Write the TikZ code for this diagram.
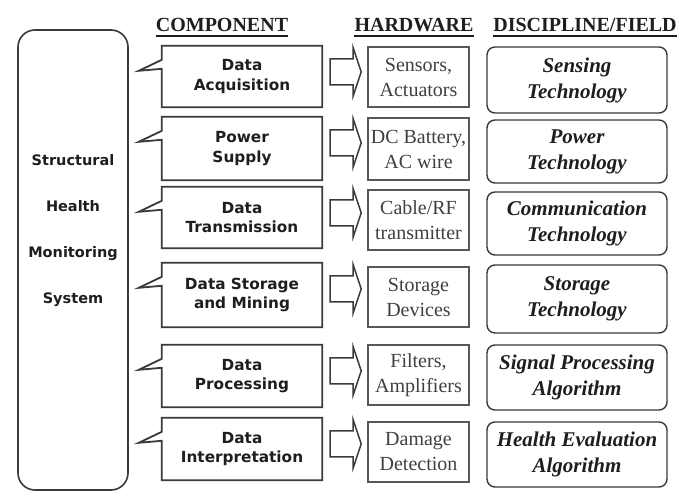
\documentclass[tikz,border=0pt]{standalone}
\usepackage{fontspec}
\setmainfont{Liberation Serif}
\newfontfamily\cmpfont{DejaVu Sans}
\usetikzlibrary{calc}
\definecolor{ln}{HTML}{3A3A3A}
\definecolor{tx}{HTML}{1E1E1E}
\tikzset{
 sysbox/.style={draw=ln, line width=1.6pt, rounded corners=17pt, minimum width=110pt, minimum height=460pt, inner sep=0pt},
 systext/.style={font=\cmpfont\bfseries\fontsize{14.5}{46}\selectfont, text=tx, align=center},
 cbox/.style={draw=none, minimum width=160pt, inner sep=0pt, font=\cmpfont\bfseries\fontsize{15.3}{19.5}\selectfont, text=tx, align=center},
 coutline/.style={draw=ln, line width=1.8pt, line join=miter},
 hwbox/.style={draw=ln!85, line width=1.3pt, minimum width=101pt, align=center, text=tx!85, font=\fontsize{20}{25}\selectfont, inner sep=0pt},
 dfbox/.style={draw=ln, line width=1.4pt, rounded corners=8pt, minimum width=180pt, align=center, text=tx, font=\bfseries\itshape\fontsize{21}{26}\selectfont, inner sep=0pt},
 hdr/.style={font=\bfseries\fontsize{20}{22}\selectfont, text=tx, inner sep=0pt, anchor=base},
 barrow/.style={draw=ln, line width=1.5pt, fill=white, line join=miter},
}
\newcommand\calloutpath[1]{\draw[coutline] (#1.north west) -- (#1.north east) -- (#1.south east) -- (#1.south west) -- ($(#1.north west)+(0,23)$) -- ($(#1.north west)+(-23,25)$) -- ($(#1.north west)+(0,14)$) -- cycle;}
\newcommand\blockarr[1]{\draw[barrow] ($(#1.north east)+(8,13)$) -- ++(23,0) -- ++(0,-11) -- ++(8,24) -- ++(-8,24) -- ++(0,-11) -- ++(-23,0) -- cycle;}
\begin{document}
\begin{tikzpicture}[x=1pt,y=-1pt]
\useasboundingbox[fill=white] (0,0) rectangle (689,494);
% headers
\node[hdr] (h1) at (222,32) {COMPONENT};
\node[hdr] (h2) at (414,32) {HARDWARE};
\node[hdr] (h3) at (585,32) {DISCIPLINE/FIELD};
\foreach \h in {h1,h2,h3}{\draw[line width=1.4pt, draw=tx] ($(\h.base west)+(0,4)$) -- ($(\h.base east)+(0,4)$);}
% system box
\node[sysbox] (sys) at (73,260) {};
\node[systext] (systx) at (73,231) {Structural\\Health\\Monitoring\\System};
% components
\node[cbox, minimum height=61pt] (c1) at (242,76.5) {Data\\Acquisition};
\node[cbox, minimum height=63pt] (c2) at (242,148.5) {Power\\Supply};
\node[cbox, minimum height=61pt] (c3) at (242,217.5) {Data\\Transmission};
\node[cbox, minimum height=64pt] (c4) at (242,295) {Data Storage\\and Mining};
\node[cbox, minimum height=62pt] (c5) at (242,376) {Data\\Processing};
\node[cbox, minimum height=62pt] (c6) at (242,449) {Data\\Interpretation};
\foreach \c in {c1,c2,c3,c4,c5,c6}{\calloutpath{\c}\blockarr{\c}}
% hardware
\node[hwbox, minimum height=60pt] (w1) at (418.5,77) {Sensors,\\Actuators};
\node[hwbox, minimum height=62pt] (w2) at (418.5,149) {DC Battery,\\AC wire};
\node[hwbox, minimum height=60pt] (w3) at (418.5,220) {Cable/RF\\transmitter};
\node[hwbox, minimum height=60pt] (w4) at (418.5,297) {Storage\\Devices};
\node[hwbox, minimum height=60pt] (w5) at (418.5,375) {Filters,\\Amplifiers};
\node[hwbox, minimum height=60pt] (w6) at (418.5,452) {Damage\\Detection};
% discipline
\node[dfbox, minimum height=66pt] (d1) at (577,80) {Sensing\\Technology};
\node[dfbox, minimum height=63pt] (d2) at (577,151.5) {Power\\Technology};
\node[dfbox, minimum height=63pt] (d3) at (577,223.5) {Communication\\Technology};
\node[dfbox, minimum height=68pt] (d4) at (577,299) {Storage\\Technology};
\node[dfbox, minimum height=65pt] (d5) at (577,377.5) {Signal Processing\\Algorithm};
\node[dfbox, minimum height=65pt] (d6) at (577,454.5) {Health Evaluation\\Algorithm};
\end{tikzpicture}
\end{document}
